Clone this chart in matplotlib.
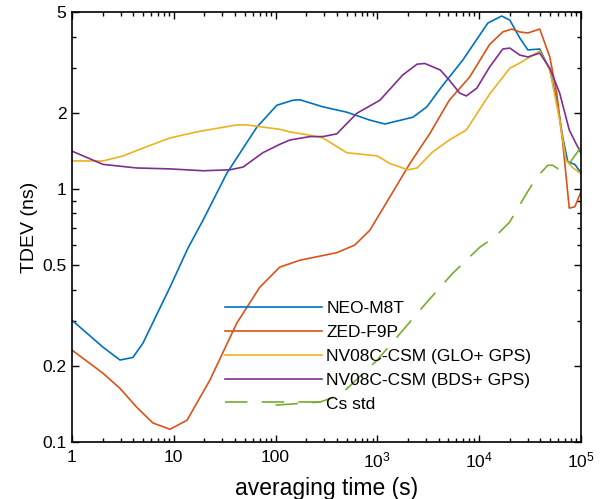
import numpy as np
import matplotlib
matplotlib.use("Agg")
import matplotlib.pyplot as plt
from matplotlib.ticker import FixedLocator, FixedFormatter, NullFormatter, LogLocator

plt.rcParams.update({
    "font.family": ["Liberation Sans", "DejaVu Sans"],
    "mathtext.fontset": "custom",
    "mathtext.rm": "Liberation Sans",
    "font.size": 10,
    "xtick.direction": "in",
    "ytick.direction": "in",
})

# ---- data ----
labels = ["NEO-M8T", "ZED-F9P", "NV08C-CSM (GLO+ GPS)", "NV08C-CSM (BDS+ GPS)", "Cs std"]
colors = ["#0072BD", "#D95319", "#EDB120", "#7E2F8E", "#77AC30"]

tau_neo = [1, 2.02, 2.96, 3.97, 4.98, 9.18, 13.8, 19.4, 33.3, 65.6, 103, 148, 174, 292, 502, 845,
           1188, 2240, 3070, 4410, 6930, 12200, 16700, 20100, 25100, 30200, 39500, 49600, 58000,
           66500, 74500, 87300, 1e5]
neo = [0.303, 0.237, 0.211, 0.216, 0.246, 0.409, 0.584, 0.753, 1.155, 1.755, 2.14, 2.24, 2.25, 2.11,
       2.01, 1.87, 1.805, 1.92, 2.11, 2.57, 3.23, 4.52, 4.82, 4.64, 3.95, 3.54, 3.57, 2.95, 2.24,
       1.60, 1.28, 1.25, 1.16]

tau_zed = [1, 2.02, 2.96, 4.35, 6.24, 9.18, 13.5, 22.7, 41.6, 70, 110, 174, 400, 600, 845, 1330,
           2090, 3300, 5100, 8100, 12700, 17100, 21000, 25100, 30200, 39500, 49600, 58000, 66500,
           77000, 87300, 1e5]
zed = [0.231, 0.187, 0.163, 0.137, 0.119, 0.1124, 0.122, 0.176, 0.295, 0.409, 0.491, 0.523, 0.56,
       0.60, 0.687, 0.93, 1.26, 1.66, 2.24, 2.77, 3.72, 4.17, 4.28, 4.17, 4.13, 4.28, 3.32, 2.39,
       1.52, 0.84, 0.85, 0.97]

tau_glo = [1, 2.02, 3.17, 4.98, 9.18, 16.8, 41.6, 52, 110, 138, 218, 292, 502, 1000, 1330, 2000,
           2460, 3500, 5100, 7500, 12700, 20100, 25100, 39500, 49600, 62000, 71500, 82000, 1e5]
glo = [1.29, 1.29, 1.35, 1.45, 1.59, 1.68, 1.79, 1.79, 1.72, 1.68, 1.63, 1.59, 1.39, 1.35, 1.26,
       1.19, 1.21, 1.40, 1.56, 1.71, 2.37, 3.0, 3.14, 3.51, 2.95, 1.87, 1.30, 1.22, 1.15]

tau_bds = [1, 2.02, 4.35, 9.18, 19.4, 35.6, 48, 75, 110, 138, 218, 292, 400, 630, 1060, 1780, 2460,
           2930, 4160, 5100, 6460, 7500, 9500, 12700, 17100, 20100, 25100, 30200, 39500, 49600,
           62000, 77000, 89000, 1e5]
bds = [1.41, 1.25, 1.21, 1.20, 1.18, 1.19, 1.22, 1.39, 1.50, 1.56, 1.61, 1.61, 1.65, 1.99, 2.24,
       2.82, 3.11, 3.13, 2.95, 2.69, 2.39, 2.33, 2.50, 3.03, 3.57, 3.6, 3.38, 3.32, 3.44, 3.0, 2.39,
       1.71, 1.52, 1.39]

tau_cs = [100, 273, 429, 1000, 1551, 3070, 5530, 10190, 14300, 20000, 29500, 37000, 47400, 53000,
          60000, 72800, 1e5]
cs = [0.14, 0.144, 0.153, 0.211, 0.259, 0.357, 0.465, 0.589, 0.646, 0.74, 0.964, 1.114, 1.24, 1.24,
      1.2, 1.22, 1.46]

xticks = [1, 10, 100, 1e3, 1e4, 1e5]
xticklabels = ["1", "10", "100", r"$\mathregular{10^3}$", r"$\mathregular{10^4}$", r"$\mathregular{10^5}$"]
yticks = [0.1, 0.2, 0.5, 1, 2, 5]
yticklabels = ["0.1", "0.2", "0.5", "1", "2", "5"]

# ---- figure ----
fig = plt.figure(figsize=(6.05, 4.99), dpi=100)
ax = fig.add_axes([0.119, 0.114, 0.841, 0.862])

lw = 1.2
ax.plot(tau_neo, neo, color=colors[0], lw=lw, label=labels[0])
ax.plot(tau_zed, zed, color=colors[1], lw=lw, label=labels[1])
ax.plot(tau_glo, glo, color=colors[2], lw=lw, label=labels[2])
ax.plot(tau_bds, bds, color=colors[3], lw=lw, label=labels[3])
ax.plot(tau_cs, cs, color=colors[4], lw=lw, linestyle=(0, (13.5, 8.5)), label=labels[4])

ax.set_xscale("log")
ax.set_yscale("log")
ax.set_xlim(1, 1e5)
ax.set_ylim(0.1, 5)

ax.xaxis.set_major_locator(FixedLocator(xticks))
ax.xaxis.set_major_formatter(FixedFormatter(xticklabels))
ax.xaxis.set_minor_locator(LogLocator(base=10, subs=np.arange(2, 10)))
ax.xaxis.set_minor_formatter(NullFormatter())
ax.yaxis.set_major_locator(FixedLocator(yticks))
ax.yaxis.set_major_formatter(FixedFormatter(yticklabels))
ax.yaxis.set_minor_locator(LogLocator(base=10, subs=np.arange(2, 10)))
ax.yaxis.set_minor_formatter(NullFormatter())

ax.tick_params(which="both", top=True, right=True, labelsize=12.5, width=1.0)
ax.tick_params(which="major", length=5, pad=4)
ax.tick_params(axis="x", which="major", pad=6)
ax.tick_params(which="minor", length=3)
for s in ax.spines.values():
    s.set_linewidth(1.2)

ax.set_xlabel("averaging time (s)", fontsize=16.5, labelpad=5)
ax.set_ylabel("TDEV (ns)", fontsize=14, labelpad=3)

ax.legend(loc="upper left", bbox_to_anchor=(0.30, 0.328), frameon=False, fontsize=12.5,
          handlelength=5.6, handletextpad=0.25, labelspacing=0.5, borderpad=0, borderaxespad=0)

fig.savefig("out.png", dpi=100)
